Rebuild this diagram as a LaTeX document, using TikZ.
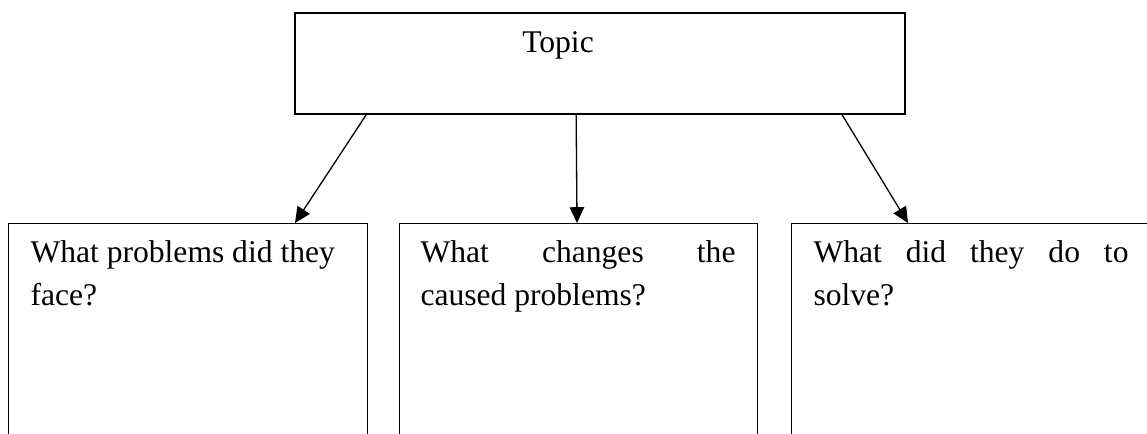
\documentclass[tikz,border=0pt]{standalone}
\usepackage{fontspec}
\setmainfont{Liberation Serif}
\usetikzlibrary{arrows.meta}
\usetikzlibrary{positioning}

\tikzset{
  topbox/.style={draw, line width=0.65pt, rectangle, inner sep=0pt},
  box/.style={draw, line width=0.55pt, rectangle, inner sep=0pt, anchor=north west,
    minimum width=136.4pt, minimum height=90pt},
  ask/.style={anchor=north west, inner sep=0pt, text width=119.7pt, align=justify,
    font=\fontsize{12}{16.3}\selectfont},
  link/.style={line width=0.5pt, -{Triangle[length=6pt,width=5.5pt]}}
}

\begin{document}
\begin{tikzpicture}[x=0.38pt, y=0.38pt]
\clip (0,0) rectangle (1147,433);

\node[topbox, minimum width=231.8pt, minimum height=38.4pt] at (600,369.5) (topic) {};
\node[anchor=base, inner sep=0pt, font=\fontsize{12}{16.3}\selectfont] at (558,381) (topiclabel) {Topic};

\node[box] at (8,210) (face) {};
\node[box, minimum width=136pt] at (399,210) (change) {};
\node[box] at (791,210) (solve) {};

\node[ask] at ([shift={(22,-17)}]face.north west) (faceq) {What problems did they\\face?};
\node[ask] at ([shift={(21,-17)}]change.north west) (changeq) {What changes the\linebreak caused problems?};
\node[ask] at ([shift={(22,-17)}]solve.north west) (solveq) {What did they do to\linebreak solve?};

\draw[link] ([shift={(72,0)}]topic.south west) -- ([shift={(287,0)}]face.north west);
\draw[link] ([shift={(282,0)}]topic.south west) -- ([shift={(178,0)}]change.north west);
\draw[link] ([shift={(548,0)}]topic.south west) -- ([shift={(117,0)}]solve.north west);
\end{tikzpicture}
\end{document}
